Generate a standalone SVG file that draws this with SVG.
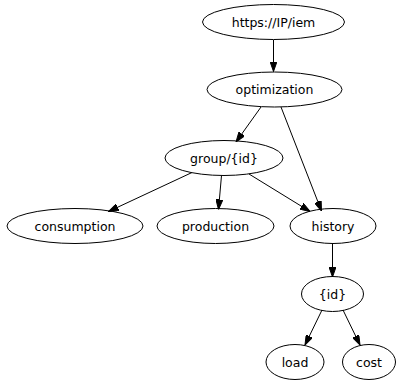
<svg xmlns="http://www.w3.org/2000/svg" width="396" height="381" viewBox="0 0 396 381">
<style>
.n ellipse{fill:none;stroke:#000;stroke-width:1}
.n text{font-family:"DejaVu Sans",sans-serif;font-size:12.5px;text-anchor:middle;fill:#000}
#edges line{stroke:#000;stroke-width:1;marker-end:url(#ah)}
</style>
<defs>
<marker id="ah" viewBox="0 0 10 7" refX="10" refY="3.5" markerWidth="10" markerHeight="7" orient="auto" markerUnits="userSpaceOnUse">
<path d="M0,0 L10,3.5 L0,7 Z" fill="#000" stroke="#000" stroke-width="1"/>
</marker>
</defs>
<rect width="396" height="381" fill="#fff"/>
<g id="edges">
<line x1="273.5" y1="40" x2="273.5" y2="71.5"/>
<line x1="261" y1="107" x2="236" y2="142"/>
<line x1="281" y1="107" x2="321.5" y2="211"/>
<line x1="192" y1="172.5" x2="108.5" y2="211.5"/>
<line x1="221.5" y1="175.5" x2="218.5" y2="209.5"/>
<line x1="249" y1="174" x2="310" y2="211.5"/>
<line x1="332.5" y1="243.5" x2="332.5" y2="277"/>
<line x1="322" y1="310" x2="305" y2="345"/>
<line x1="343" y1="310" x2="360" y2="345"/>
</g>
<g id="https" class="n"><ellipse cx="273.5" cy="22" rx="71" ry="17.5"/><text x="273.5" y="26.5">https://IP/iem</text></g>
<g id="optimization" class="n"><ellipse cx="274.5" cy="89.5" rx="67.5" ry="17.5"/><text x="274.5" y="94">optimization</text></g>
<g id="group" class="n"><ellipse cx="224" cy="158" rx="59" ry="17.5"/><text x="224" y="162.5">group/{id}</text></g>
<g id="consumption" class="n"><ellipse cx="75" cy="226" rx="68" ry="17.5"/><text x="75" y="230.5">consumption</text></g>
<g id="production" class="n"><ellipse cx="215.5" cy="226" rx="58.5" ry="17.5"/><text x="215.5" y="230.5">production</text></g>
<g id="history" class="n"><ellipse cx="333" cy="226" rx="43" ry="17.5"/><text x="333" y="230.5">history</text></g>
<g id="id" class="n"><ellipse cx="332.5" cy="294" rx="31" ry="17.5"/><text x="332.5" y="298.5">{id}</text></g>
<g id="load" class="n"><ellipse cx="295" cy="362" rx="29" ry="17.5"/><text x="295" y="366.5">load</text></g>
<g id="cost" class="n"><ellipse cx="369" cy="362" rx="26.5" ry="17.5"/><text x="369" y="366.5">cost</text></g>
</svg>
